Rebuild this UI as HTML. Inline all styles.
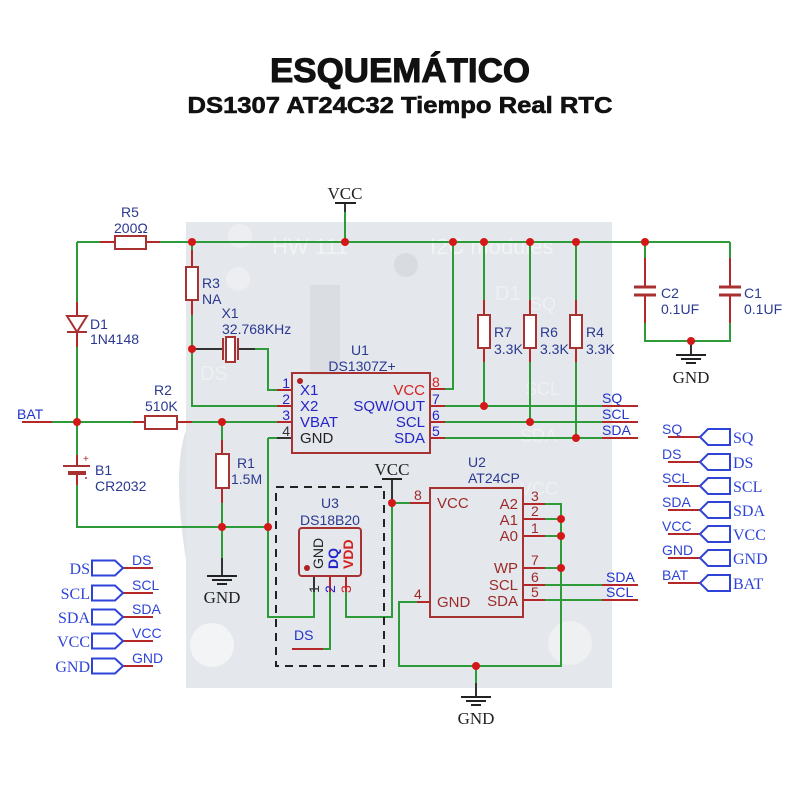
<!DOCTYPE html>
<html><head><meta charset="utf-8">
<style>
html,body{margin:0;padding:0;background:#fff;}
svg{display:block;}
text{font-family:"Liberation Sans",Arial,sans-serif;}
.sf{font-family:"Liberation Serif","Times New Roman",serif;}
</style></head><body>
<svg width="800" height="800" viewBox="0 0 800 800" xmlns="http://www.w3.org/2000/svg">
<rect width="800" height="800" fill="#fff"/>

<!-- Titles -->
<text x="400" y="82" text-anchor="middle" font-size="34" font-weight="bold" textLength="260" lengthAdjust="spacingAndGlyphs" fill="#111" stroke="#111" stroke-width="1">ESQUEMÁTICO</text>
<text x="400" y="113" text-anchor="middle" font-size="23" font-weight="bold" textLength="425" lengthAdjust="spacingAndGlyphs" fill="#111" stroke="#111" stroke-width="0.6">DS1307 AT24C32 Tiempo Real RTC</text>

<!-- PCB background -->
<rect x="186" y="222" width="426" height="466" fill="#e4e7eb"/>
<path d="M186,430 Q172,470 186,560 Z" fill="#e0e3e7"/>
<circle cx="212" cy="645" r="22" fill="#f3f4f6"/>
<circle cx="570" cy="643" r="22" fill="#eef0f2"/>
<circle cx="240" cy="236" r="12" fill="#eceef1"/>
<circle cx="238" cy="279" r="12" fill="#eceef1"/>
<circle cx="406" cy="265" r="12" fill="#d8dbdf"/>
<text x="272" y="254" font-size="22" fill="#f2f3f5">HW 111</text>
<text x="430" y="254" font-size="22" fill="#f2f3f5">I2C modules</text>
<text x="200" y="380" font-size="20" fill="#eef0f2">DS</text>
<text x="495" y="300" font-size="20" fill="#eef0f2">D1</text>
<text x="530" y="310" font-size="18" fill="#eef0f2">SQ</text>
<text x="525" y="395" font-size="18" fill="#eef0f2">SCL</text>
<text x="520" y="442" font-size="18" fill="#eef0f2">SDA</text>
<text x="520" y="495" font-size="18" fill="#eef0f2">VCC</text>
<rect x="310" y="285" width="30" height="90" fill="#dadde1"/>

<!-- Green wires -->
<g stroke="#2f9a38" stroke-width="2" fill="none">
<path d="M77,242 H100"/>
<path d="M160,242 H730"/>
<path d="M77,242 V302"/>
<path d="M77,347 V455"/>
<path d="M77,485 V527 H268"/>
<path d="M52,422 H133"/>
<path d="M192,422 H277"/>
<path d="M192,242 V250"/>
<path d="M192,315 V406 H277"/>
<path d="M255,349 H268 V390 H277"/>
<path d="M222,422 V440"/>
<path d="M222,503 V558"/>
<path d="M268,438 H277"/>
<path d="M268,438 V617 H314 V592"/>
<path d="M346,592 V617 H392 V503 H410"/>
<path d="M330,592 V649 H323"/>
<path d="M445,389 H453 V242"/>
<path d="M445,406 H602"/>
<path d="M445,422 H602"/>
<path d="M445,438 H602"/>
<path d="M484,242 V300"/><path d="M484,362 V406"/>
<path d="M530,242 V300"/><path d="M530,362 V422"/>
<path d="M576,242 V300"/><path d="M576,362 V438"/>
<path d="M645,242 V258"/>
<path d="M645,323 V341 H730 V323"/>
<path d="M730,258 V242"/>
<path d="M417,602 H399 V666 H561 V504 H545"/>
<path d="M545,519 H561"/>
<path d="M545,536 H561"/>
<path d="M545,568 H561"/>
<path d="M545,585 H602"/>
<path d="M545,600 H602"/>
<path d="M476,666 V683"/>
<path d="M345,212 V242"/>
</g>

<!-- Red leads -->
<g stroke="#b5282a" stroke-width="2" fill="none">
<path d="M100,242 H115"/><path d="M146,242 H160"/>
<path d="M77,302 V347"/>
<path d="M77,455 V466"/><path d="M77,473 V485"/>
<path d="M133,422 H145"/><path d="M177,422 H192"/>
<path d="M22,422 H52"/>
<path d="M192,250 V267"/><path d="M192,300 V315"/>
<path d="M222,440 V454"/><path d="M222,488 V503"/>
<path d="M484,300 V315"/><path d="M484,348 V362"/>
<path d="M530,300 V315"/><path d="M530,348 V362"/>
<path d="M576,300 V315"/><path d="M576,348 V362"/>
<path d="M645,258 V287"/><path d="M645,295 V323"/>
<path d="M730,258 V287"/><path d="M730,295 V323"/>
<path d="M277,390 H292"/><path d="M277,406 H292"/><path d="M277,422 H292"/>
<path d="M430,389 H445"/><path d="M430,406 H445"/><path d="M430,422 H445"/><path d="M430,438 H445"/>
<path d="M410,503 H430"/><path d="M417,602 H430"/>
<path d="M523,504 H545"/><path d="M523,519 H545"/><path d="M523,536 H545"/>
<path d="M523,568 H545"/><path d="M523,585 H545"/><path d="M523,600 H545"/>
<path d="M330,577 V592"/><path d="M346,577 V592"/>
<path d="M602,406 H638"/><path d="M602,422 H638"/><path d="M602,438 H638"/>
<path d="M602,585 H638"/><path d="M602,600 H638"/>
<path d="M292,649 H323"/>
<path d="M123,568 H153"/><path d="M123,593 H153"/><path d="M123,617 H153"/><path d="M123,641 H153"/><path d="M123,666 H153"/>
<path d="M668,437 H700"/><path d="M668,462 H700"/><path d="M668,486 H700"/><path d="M668,510 H700"/><path d="M668,534 H700"/><path d="M668,558 H700"/><path d="M668,583 H700"/>
</g>
<g stroke="#333" stroke-width="2" fill="none">
<path d="M277,438 H292"/>
<path d="M314,577 V592"/>
<path d="M192,349 H223"/>
<path d="M238,349 H255"/>
<path d="M345,203 V212"/>
<path d="M392,479 V503"/>
<path d="M222,558 V576"/>
<path d="M691,341 V355"/>
<path d="M476,683 V697"/>
</g>

<!-- Component bodies -->
<g stroke="#a83232" stroke-width="2" fill="#fff">
<rect x="115" y="236" width="31" height="13"/>
<rect x="145" y="416" width="32" height="13"/>
<rect x="186" y="267" width="12" height="33"/>
<rect x="216" y="454" width="13" height="34"/>
<rect x="478" y="315" width="12" height="33"/>
<rect x="524" y="315" width="12" height="33"/>
<rect x="570" y="315" width="12" height="33"/>
<polygon points="67,316 87,316 77,332"/>
<rect x="226" y="337" width="9" height="25"/>
</g>
<g stroke="#a83232" fill="none">
<rect x="292" y="373" width="138" height="80" stroke-width="2"/>
<rect x="430" y="488" width="93" height="129" stroke-width="2"/>
<rect x="299" y="528" width="62" height="48" rx="3" stroke-width="2"/>
<line x1="67" y1="332" x2="87" y2="332" stroke-width="2"/>
<line x1="63" y1="466" x2="90" y2="466" stroke-width="2"/>
<line x1="68" y1="473" x2="86" y2="473" stroke-width="4"/>
<line x1="634" y1="287" x2="656" y2="287" stroke-width="3"/>
<line x1="634" y1="295" x2="656" y2="295" stroke-width="3"/>
<line x1="719" y1="287" x2="741" y2="287" stroke-width="3"/>
<line x1="719" y1="295" x2="741" y2="295" stroke-width="3"/>
<line x1="223" y1="338" x2="223" y2="360" stroke-width="2"/>
<line x1="238" y1="338" x2="238" y2="360" stroke-width="2"/>
</g>
<text x="83" y="462" font-size="10" fill="#a83232">+</text>
<circle cx="86" cy="478" r="1" fill="#a83232"/>
<circle cx="300" cy="381" r="3" fill="#b02020"/>
<circle cx="307" cy="568" r="3" fill="#b02020"/>

<!-- U3 dashed box -->
<rect x="276" y="487" width="108" height="179" fill="none" stroke="#222" stroke-width="2" stroke-dasharray="8 6"/>

<!-- Junction dots -->
<g fill="#d41818">
<circle cx="192" cy="242" r="4"/><circle cx="345" cy="242" r="4"/><circle cx="453" cy="242" r="4"/>
<circle cx="484" cy="242" r="4"/><circle cx="530" cy="242" r="4"/><circle cx="576" cy="242" r="4"/>
<circle cx="645" cy="242" r="4"/><circle cx="192" cy="349" r="4"/><circle cx="77" cy="422" r="4"/>
<circle cx="222" cy="422" r="4"/><circle cx="222" cy="527" r="4"/><circle cx="268" cy="527" r="4"/>
<circle cx="484" cy="406" r="4"/><circle cx="530" cy="422" r="4"/><circle cx="576" cy="438" r="4"/>
<circle cx="691" cy="341" r="4"/><circle cx="392" cy="503" r="4"/><circle cx="561" cy="519" r="4"/>
<circle cx="561" cy="536" r="4"/><circle cx="561" cy="568" r="4"/><circle cx="476" cy="666" r="4"/>
</g>

<!-- VCC / GND symbols -->
<g stroke="#222" stroke-width="2">
<line x1="335" y1="203" x2="356" y2="203"/>
<line x1="382" y1="479" x2="402" y2="479"/>
<line x1="207" y1="576" x2="237" y2="576"/><line x1="212" y1="580" x2="232" y2="580"/><line x1="217" y1="584" x2="227" y2="584"/>
<line x1="676" y1="355" x2="706" y2="355"/><line x1="681" y1="359" x2="701" y2="359"/><line x1="686" y1="363" x2="696" y2="363"/>
<line x1="461" y1="697" x2="491" y2="697"/><line x1="466" y1="701" x2="486" y2="701"/><line x1="471" y1="705" x2="481" y2="705"/>
</g>
<g class="sf" font-size="17" fill="#222" text-anchor="middle">
<text class="sf" x="345" y="199">VCC</text>
<text class="sf" x="392" y="475">VCC</text>
<text class="sf" x="222" y="603">GND</text>
<text class="sf" x="691" y="383">GND</text>
<text class="sf" x="476" y="724">GND</text>
</g>

<!-- Component labels -->
<g font-size="14" fill="#2b3990">
<text x="130" y="217" text-anchor="middle">R5</text>
<text x="114" y="233">200Ω</text>
<text x="90" y="329">D1</text>
<text x="90" y="344">1N4148</text>
<text x="202" y="288">R3</text>
<text x="202" y="304">NA</text>
<text x="230" y="318" text-anchor="middle">X1</text>
<text x="222" y="334">32.768KHz</text>
<text x="163" y="395" text-anchor="middle">R2</text>
<text x="145" y="411">510K</text>
<text x="237" y="468">R1</text>
<text x="231" y="484">1.5M</text>
<text x="95" y="475">B1</text>
<text x="95" y="491">CR2032</text>
<text x="360" y="355" text-anchor="middle">U1</text>
<text x="362" y="371" text-anchor="middle">DS1307Z+</text>
<text x="494" y="337">R7</text><text x="494" y="354">3.3K</text>
<text x="540" y="337">R6</text><text x="540" y="354">3.3K</text>
<text x="586" y="337">R4</text><text x="586" y="354">3.3K</text>
<text x="661" y="298">C2</text><text x="661" y="314">0.1UF</text>
<text x="744" y="298">C1</text><text x="744" y="314">0.1UF</text>
<text x="468" y="467">U2</text>
<text x="468" y="483">AT24CP</text>
<text x="330" y="508" text-anchor="middle">U3</text>
<text x="330" y="525" text-anchor="middle">DS18B20</text>
</g>

<!-- U1 pins -->
<g font-size="15" fill="#2424c8">
<text x="300" y="395">X1</text>
<text x="300" y="411">X2</text>
<text x="300" y="427">VBAT</text>
<text x="300" y="443" fill="#222">GND</text>
<text x="425" y="395" text-anchor="end" fill="#d42020">VCC</text>
<text x="425" y="411" text-anchor="end">SQW/OUT</text>
<text x="425" y="427" text-anchor="end">SCL</text>
<text x="425" y="443" text-anchor="end">SDA</text>
</g>
<g font-size="14" fill="#2424c8">
<text x="290" y="388" text-anchor="end">1</text>
<text x="290" y="404" text-anchor="end">2</text>
<text x="290" y="420" text-anchor="end">3</text>
<text x="290" y="436" text-anchor="end" fill="#333">4</text>
<text x="432" y="387" fill="#d42020">8</text>
<text x="432" y="404">7</text>
<text x="432" y="420">6</text>
<text x="432" y="436">5</text>
</g>

<!-- U2 pins -->
<g font-size="15" fill="#9b2b2b">
<text x="437" y="508">VCC</text>
<text x="437" y="607">GND</text>
<text x="518" y="509" text-anchor="end">A2</text>
<text x="518" y="525" text-anchor="end">A1</text>
<text x="518" y="541" text-anchor="end">A0</text>
<text x="518" y="573" text-anchor="end">WP</text>
<text x="518" y="590" text-anchor="end">SCL</text>
<text x="518" y="606" text-anchor="end">SDA</text>
</g>
<g font-size="14" fill="#9b2b2b">
<text x="414" y="500">8</text>
<text x="414" y="599">4</text>
<text x="531" y="501">3</text>
<text x="531" y="516">2</text>
<text x="531" y="533">1</text>
<text x="531" y="565">7</text>
<text x="531" y="582">6</text>
<text x="531" y="597">5</text>
</g>

<!-- U3 rotated labels -->
<g font-size="14">
<text transform="translate(323,569) rotate(-90)" fill="#222">GND</text>
<text transform="translate(338,569) rotate(-90)" fill="#2424c8" font-weight="bold">DQ</text>
<text transform="translate(353,569) rotate(-90)" fill="#d42020" font-weight="bold">VDD</text>
<text transform="translate(319,593) rotate(-90)" fill="#333">1</text>
<text transform="translate(335,593) rotate(-90)" fill="#2424c8">2</text>
<text transform="translate(351,593) rotate(-90)" fill="#d42020">3</text>
</g>

<!-- Net labels -->
<g font-size="14" fill="#2233cc">
<text x="17" y="419">BAT</text>
<text x="602" y="403">SQ</text>
<text x="602" y="419">SCL</text>
<text x="602" y="435">SDA</text>
<text x="606" y="582">SDA</text>
<text x="606" y="597">SCL</text>
<text x="294" y="640">DS</text>
</g>

<!-- Left connectors -->
<g stroke="#2e44d8" stroke-width="2" fill="none">
<path d="M92,560.5 H115 L123,568 L115,575.5 H92 Z"/>
<path d="M92,585.5 H115 L123,593 L115,600.5 H92 Z"/>
<path d="M92,609.5 H115 L123,617 L115,624.5 H92 Z"/>
<path d="M92,633.5 H115 L123,641 L115,648.5 H92 Z"/>
<path d="M92,658.5 H115 L123,666 L115,673.5 H92 Z"/>
</g>
<g font-size="16" fill="#2e44d8" text-anchor="end">
<text class="sf" x="90" y="574">DS</text>
<text class="sf" x="90" y="599">SCL</text>
<text class="sf" x="90" y="623">SDA</text>
<text class="sf" x="90" y="647">VCC</text>
<text class="sf" x="90" y="672">GND</text>
</g>
<g font-size="14" fill="#2e44d8">
<text x="132" y="565">DS</text>
<text x="132" y="590">SCL</text>
<text x="132" y="614">SDA</text>
<text x="132" y="638">VCC</text>
<text x="132" y="663">GND</text>
</g>

<!-- Right connectors -->
<g stroke="#2e44d8" stroke-width="2" fill="none">
<path d="M730,429 H708 L700,437 L708,445 H730 Z"/>
<path d="M730,454 H708 L700,462 L708,470 H730 Z"/>
<path d="M730,478 H708 L700,486 L708,494 H730 Z"/>
<path d="M730,502 H708 L700,510 L708,518 H730 Z"/>
<path d="M730,526 H708 L700,534 L708,542 H730 Z"/>
<path d="M730,550 H708 L700,558 L708,566 H730 Z"/>
<path d="M730,575 H708 L700,583 L708,591 H730 Z"/>
</g>
<g font-size="14" fill="#2e44d8">
<text x="662" y="434">SQ</text>
<text x="662" y="459">DS</text>
<text x="662" y="483">SCL</text>
<text x="662" y="507">SDA</text>
<text x="662" y="531">VCC</text>
<text x="662" y="555">GND</text>
<text x="662" y="580">BAT</text>
</g>
<g font-size="16" fill="#2e44d8">
<text class="sf" x="733" y="443">SQ</text>
<text class="sf" x="733" y="468">DS</text>
<text class="sf" x="733" y="492">SCL</text>
<text class="sf" x="733" y="516">SDA</text>
<text class="sf" x="733" y="540">VCC</text>
<text class="sf" x="733" y="564">GND</text>
<text class="sf" x="733" y="589">BAT</text>
</g>
</svg>
</body></html>
